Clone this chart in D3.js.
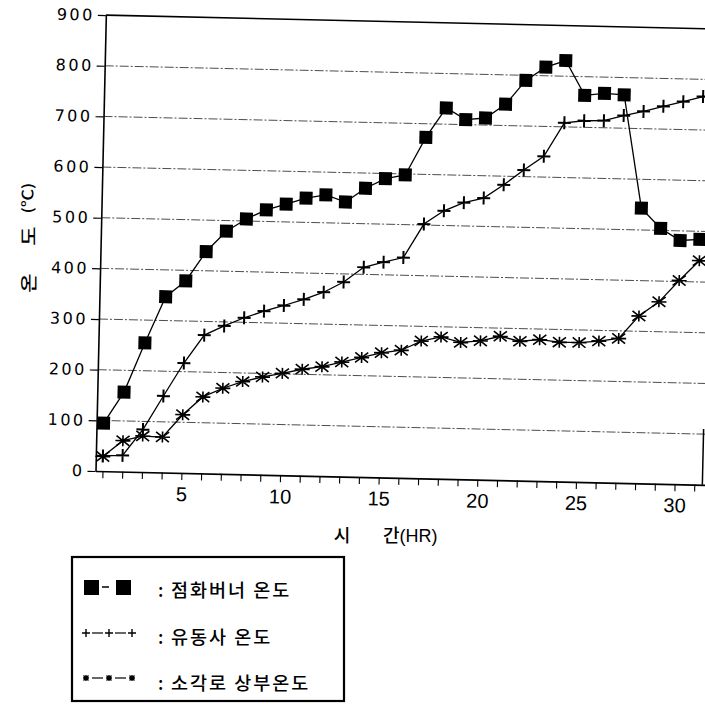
<!DOCTYPE html>
<html><head><meta charset="utf-8">
<script src="https://cdn.jsdelivr.net/npm/d3@7"></script>
<style>html,body{margin:0;padding:0;background:#fff;} svg{display:block;}</style>
</head><body>
<svg id="chart" width="705" height="704"></svg>
<script>
// ---- data ----
const hours = [1,2,3,4,5,6,7,8,9,10,11,12,13,14,15,16,17,18,19,20,21,22,23,24,25,26,27,28,29,30,31];
const burnerTemp = [95,157,255,347,379,438,479,504,523,535,548,555,542,570,590,598,673,732,710,714,742,790,817,831,763,768,766,543,504,481,484];
const sandTemp   = [30,32,84,151,217,273,292,309,323,335,348,363,384,414,425,435,502,529,546,556,583,613,641,708,713,714,725,734,745,755,766];
const upperTemp  = [29,61,71,70,115,151,169,183,193,201,210,216,226,236,246,252,271,280,270,274,284,275,279,275,275,279,285,330,359,402,442];
const xTickLabels = [5,10,15,20,25,30];
const yTickValues = [0,100,200,300,400,500,600,700,800,900];
const seriesNames = ["점화버너 온도","유동사 온도","소각로 상부온도"];
const xTitleParts = ["시","간","(HR)"];
const yTitleParts = ["온","도","(℃)"];

// ---- layout ----
const svg = d3.select("#chart");
const W = 610, H = 456;
const origin = [95.5, 471];
const tilt = 1.3;
const x = d3.scaleLinear().domain([0.645, 31.56]).range([0, W]);
const y = d3.scaleLinear().domain([0, 900]).range([0, -H]);

const g = svg.append("g").attr("transform", `translate(${origin[0]},${origin[1]}) rotate(${tilt})`);

// grid lines
g.selectAll("line.grid").data(yTickValues.filter(v => v > 0 && v < 900)).join("line")
  .attr("class","grid")
  .attr("x1",0).attr("x2",W).attr("y1",d=>y(d)).attr("y2",d=>y(d))
  .attr("stroke","#3a3a3a").attr("stroke-width",0.9).attr("stroke-dasharray","9 2 2 2");
// top frame line
g.append("line").attr("x1",0).attr("x2",W).attr("y1",y(900)).attr("y2",y(900))
  .attr("stroke","#000").attr("stroke-width",1.6);
// partial right frame
g.append("line").attr("x1",W-3).attr("x2",W-3).attr("y1",y(0)).attr("y2",y(110))
  .attr("stroke","#000").attr("stroke-width",1.5);

// y axis
const yAxisG = g.append("g").call(d3.axisLeft(y).tickValues(yTickValues).tickSize(8).tickSizeOuter(0).tickPadding(3));
yAxisG.select(".domain").attr("stroke","#000").attr("stroke-width",1.6);
yAxisG.selectAll(".tick line").attr("stroke","#000").attr("stroke-width",1.2);
yAxisG.selectAll("text").attr("font-family","DejaVu Sans").attr("font-size",16)
  .attr("letter-spacing","2.5px").attr("fill","#000");

// x axis
const xAxisG = g.append("g").call(d3.axisBottom(x).tickValues(hours).tickSize(7).tickSizeOuter(0).tickPadding(7)
  .tickFormat(d => xTickLabels.includes(d) ? d : ""));
xAxisG.select(".domain").attr("stroke","#000").attr("stroke-width",1.6);
xAxisG.selectAll(".tick line").attr("stroke","#000").attr("stroke-width",1.1);
xAxisG.selectAll("text").attr("font-family","'Liberation Sans Narrow', 'Liberation Sans', Arial")
  .attr("font-size",20).attr("fill","#000");

// series
const series = [
  {name: seriesNames[0], values: burnerTemp, marker: "square"},
  {name: seriesNames[1], values: sandTemp, marker: "plus"},
  {name: seriesNames[2], values: upperTemp, marker: "star"}
];
const line = d3.line().x(d => x(d[0])).y(d => y(d[1]));
series.forEach(s => {
  g.append("path").datum(hours.map((h,i) => [h, s.values[i]]))
    .attr("d", line).attr("fill","none").attr("stroke","#000").attr("stroke-width",1.3);
});
const markerPath = {
  plus: "M-6.5,0H6.5M0,-6.5V6.5",
  star: "M-7.5,0H7.5M0,-5.5V5.5M-6.5,-5L6.5,5M-6.5,5L6.5,-5"
};
const legendPath = {
  plus: "M-4,0H4M0,-4V4",
  star: "M-3,0H3M0,-3V3M-2.5,-2.5L2.5,2.5M-2.5,2.5L2.5,-2.5"
};
series.slice().reverse().forEach(s => {
  const pts = hours.map((h,i) => [h, s.values[i]]);
  if (s.marker === "square") {
    g.selectAll(null).data(pts).join("rect")
      .attr("x", d => x(d[0]) - 6.5).attr("y", d => y(d[1]) - 6.5)
      .attr("width", 13).attr("height", 13).attr("fill","#000");
  } else {
    g.selectAll(null).data(pts).join("path")
      .attr("transform", d => `translate(${x(d[0])},${y(d[1])})`)
      .attr("d", markerPath[s.marker]).attr("fill","none").attr("stroke","#000")
      .attr("stroke-width", s.marker === "plus" ? 2 : 1.6);
  }
});

// axis titles
const kFont = "'Noto Sans CJK KR', 'Noto Sans', sans-serif";
svg.append("text").attr("x",342).attr("y",542).attr("text-anchor","middle")
  .attr("font-family",kFont).attr("font-weight",500).attr("font-size",18).text(xTitleParts[0]);
const xt = svg.append("text").attr("x",383).attr("y",542).attr("font-family",kFont).attr("font-weight",500).attr("font-size",18);
xt.append("tspan").text(xTitleParts[1]);
xt.append("tspan").attr("font-family","'Liberation Sans Narrow', 'Liberation Sans', Arial").attr("font-weight",400).attr("font-size",18).text(xTitleParts[2]);

const yTitlePos = [[27,283],[27,236],[27,198]];
yTitleParts.forEach((t,i) => {
  svg.append("text")
    .attr("transform", `translate(${yTitlePos[i][0]},${yTitlePos[i][1]}) rotate(-90) scale(1.0,0.8)`)
    .attr("text-anchor","middle").attr("dominant-baseline","central")
    .attr("font-family", kFont).attr("font-weight",500).attr("font-size", i === 2 ? 18 : 21).text(t);
});

// legend
const lg = svg.append("g");
lg.append("rect").attr("x",72).attr("y",557).attr("width",272).attr("height",144)
  .attr("fill","none").attr("stroke","#000").attr("stroke-width",2.2);
const rowY = [589, 634, 679];
// row 1 symbol
lg.append("rect").attr("x",84).attr("y",rowY[0]-9).attr("width",15).attr("height",15).attr("fill","#000");
lg.append("line").attr("x1",102).attr("x2",109).attr("y1",rowY[0]-2).attr("y2",rowY[0]-2).attr("stroke","#000").attr("stroke-width",1.5);
lg.append("rect").attr("x",116).attr("y",rowY[0]-9).attr("width",15).attr("height",15).attr("fill","#000");
// rows 2,3 symbols
const symX = [86, 109, 132];
[["plus",1],["star",2]].forEach(([m,r]) => {
  symX.forEach(sx => {
    lg.append("path").attr("transform",`translate(${sx},${rowY[r]-1})`).attr("d",legendPath[m])
      .attr("fill","none").attr("stroke","#000").attr("stroke-width",1.4);
  });
  [0,1].forEach(k => {
    lg.append("line").attr("x1",symX[k]+6).attr("x2",symX[k+1]-6).attr("y1",rowY[r]-1).attr("y2",rowY[r]-1)
      .attr("stroke","#000").attr("stroke-width",1.2);
  });
});
const textY = [589, 636, 682];
seriesNames.forEach((n,i) => {
  lg.append("text").attr("x",158).attr("y",textY[i]).attr("dominant-baseline","central")
    .attr("font-family",kFont).attr("font-weight",500).attr("font-size",18).text(":");
  lg.append("text").attr("x",171).attr("y",textY[i]).attr("dominant-baseline","central")
    .attr("font-family",kFont).attr("font-weight",500).attr("font-size",18.5).attr("letter-spacing","2px").text(n);
});
</script>
</body></html>
